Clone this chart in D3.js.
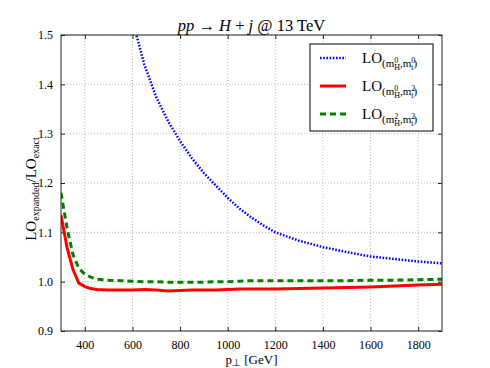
<!DOCTYPE html>
<html>
<head>
<meta charset="utf-8">
<script src="https://cdn.jsdelivr.net/npm/d3@7"></script>
<style>
  body { margin: 0; background: #fff; }
  text { font-family: "Liberation Serif", serif; fill: #000; }
</style>
</head>
<body>
<svg id="chart" width="490" height="368"></svg>
<script>
// pT grid (GeV) and ratio values
var pT = [300, 325, 350, 375, 400, 425, 450, 500, 550, 600, 650, 700, 750, 800, 850, 900, 950,
          1000, 1050, 1100, 1150, 1200, 1300, 1400, 1500, 1600, 1700, 1800, 1900];
var loH0T0 = [null, null, null, null, null, null, null, null, null, 1.53, 1.44, 1.374, 1.325, 1.285,
              1.25, 1.22, 1.195, 1.17, 1.148, 1.13, 1.114, 1.10, 1.083, 1.07, 1.06, 1.051, 1.046, 1.041, 1.037];
var loH0T2 = [1.135, 1.07, 1.025, 0.997, 0.990, 0.986, 0.984, 0.983, 0.983, 0.983, 0.984, 0.983, 0.981,
              0.982, 0.983, 0.983, 0.983, 0.984, 0.985, 0.985, 0.985, 0.985, 0.986, 0.987, 0.988, 0.989,
              0.991, 0.993, 0.995];
var loH2T2 = [1.18, 1.11, 1.055, 1.027, 1.015, 1.009, 1.005, 1.003, 1.002, 1.001, 1.000, 1.000, 0.999,
              0.999, 0.999, 0.999, 1.000, 1.000, 1.001, 1.002, 1.002, 1.002, 1.002, 1.002, 1.002, 1.003,
              1.003, 1.004, 1.005];
var xTicks = [400, 600, 800, 1000, 1200, 1400, 1600, 1800];
var yTicks = [0.9, 1.0, 1.1, 1.2, 1.3, 1.4, 1.5];

var margin = {top: 35, right: 48, bottom: 37, left: 61};
var width = 490 - margin.left - margin.right,
    height = 368 - margin.top - margin.bottom;

var svg = d3.select("#chart");
var g = svg.append("g")
    .attr("transform", "translate(" + margin.left + "," + margin.top + ")");

var x = d3.scaleLinear().domain([300, 1900]).range([0, width]);
var y = d3.scaleLinear().domain([0.9, 1.5]).range([height, 0]);

g.append("clipPath").attr("id", "clip")
  .append("rect").attr("width", width).attr("height", height);

// dotted grid
g.selectAll(".gx").data(xTicks).enter().append("line")
    .attr("x1", function(d) { return x(d); }).attr("x2", function(d) { return x(d); })
    .attr("y1", 0).attr("y2", height)
    .attr("stroke", "#b8b8b8").attr("stroke-width", 1).attr("stroke-dasharray", "1,2");
g.selectAll(".gy").data(yTicks).enter().append("line")
    .attr("y1", function(d) { return y(d); }).attr("y2", function(d) { return y(d); })
    .attr("x1", 0).attr("x2", width)
    .attr("stroke", "#b8b8b8").attr("stroke-width", 1).attr("stroke-dasharray", "1,2");

// axes with inward ticks on all four sides
var xb = g.append("g").attr("transform", "translate(0," + height + ")")
    .call(d3.axisBottom(x).tickValues(xTicks).tickSizeInner(-4).tickSizeOuter(0).tickPadding(9)
      .tickFormat(d3.format("d")));
var xt = g.append("g")
    .call(d3.axisTop(x).tickValues(xTicks).tickSizeInner(-4).tickSizeOuter(0).tickFormat(""));
var yl = g.append("g")
    .call(d3.axisLeft(y).tickValues(yTicks).tickSizeInner(-4).tickSizeOuter(0).tickPadding(8)
      .tickFormat(d3.format(".1f")));
var yr = g.append("g").attr("transform", "translate(" + width + ",0)")
    .call(d3.axisRight(y).tickValues(yTicks).tickSizeInner(-4).tickSizeOuter(0).tickFormat(""));
[xb, xt, yl, yr].forEach(function(a) {
  a.attr("font-family", "Liberation Serif").attr("font-size", 12);
  a.select(".domain").remove();
  a.selectAll("line").attr("stroke", "#222");
  a.selectAll("text").attr("fill", "#000");
});

var line = function(vals) {
  return d3.line()
    .defined(function(d, i) { return vals[i] !== null; })
    .x(function(d) { return x(d); })
    .y(function(d, i) { return y(vals[i]); })(pT);
};

var series = [
  {vals: loH0T0, color: "#0000ff", w: 2.5, dash: "1.6,1.6", h: "0", t: "0"},
  {vals: loH0T2, color: "#ff0000", w: 3, dash: null, h: "0", t: "2"},
  {vals: loH2T2, color: "#008000", w: 3, dash: "6,4", h: "2", t: "2"}
];

var curves = g.append("g").attr("clip-path", "url(#clip)");
series.forEach(function(s) {
  curves.append("path")
    .attr("d", line(s.vals))
    .attr("fill", "none")
    .attr("stroke", s.color)
    .attr("stroke-width", s.w)
    .attr("stroke-dasharray", s.dash);
});

// frame
g.append("rect").attr("width", width).attr("height", height)
  .attr("fill", "none").attr("stroke", "#222").attr("stroke-width", 1);

// title
var title = svg.append("text")
    .attr("x", margin.left + width / 2).attr("y", 31)
    .attr("text-anchor", "middle").style("font-size", "16.5px");
title.append("tspan").style("font-style", "italic").text("pp");
title.append("tspan").text(" \u2192 ");
title.append("tspan").style("font-style", "italic").text("H");
title.append("tspan").text(" + ");
title.append("tspan").style("font-style", "italic").text("j");
title.append("tspan").text(" @ 13 TeV");

// axis labels
var xlab = svg.append("text")
    .attr("x", margin.left + width / 2).attr("y", 364)
    .attr("text-anchor", "middle").style("font-size", "13px");
xlab.append("tspan").text("p");
xlab.append("tspan").attr("dy", 2).style("font-size", "10px").text("\u22a5");
xlab.append("tspan").attr("dy", -2).text(" [GeV]");

var ylab = svg.append("text")
    .attr("transform", "translate(36," + (margin.top + height / 2 + 6) + ") rotate(-90)")
    .attr("text-anchor", "middle").style("font-size", "15px");
ylab.append("tspan").text("LO");
ylab.append("tspan").attr("dy", 3).style("font-size", "10px").text("expanded");
ylab.append("tspan").attr("dy", -3).text("/LO");
ylab.append("tspan").attr("dy", 3).style("font-size", "10px").text("exact");

// legend
var leg = svg.append("g");
leg.append("rect")
    .attr("x", 310).attr("y", 44).attr("width", 123).attr("height", 87)
    .attr("fill", "#fff").attr("stroke", "#000").attr("stroke-width", 1);
series.forEach(function(s, i) {
  var yy = 58 + i * 28;
  leg.append("line")
    .attr("x1", 320).attr("x2", 346).attr("y1", yy).attr("y2", yy)
    .attr("stroke", s.color).attr("stroke-width", s.w)
    .attr("stroke-dasharray", s.dash);
  var t = leg.append("text").attr("x", 362).attr("y", yy + 5).style("font-size", "15px");
  t.append("tspan").text("LO");
  t.append("tspan").attr("dy", 4).style("font-size", "11px").text("(m");
  t.append("tspan").attr("dy", -4.5).style("font-size", "8px").text(s.h);
  t.append("tspan").attr("dx", -4).attr("dy", 7.5).style("font-size", "8px").text("H");
  t.append("tspan").attr("dy", -3).style("font-size", "11px").text(",m");
  t.append("tspan").attr("dy", -4.5).style("font-size", "8px").text(s.t);
  t.append("tspan").attr("dx", -4).attr("dy", 7.5).style("font-size", "8px").text("t");
  t.append("tspan").attr("dy", -3).style("font-size", "11px").text(")");
});
</script>
</body>
</html>
